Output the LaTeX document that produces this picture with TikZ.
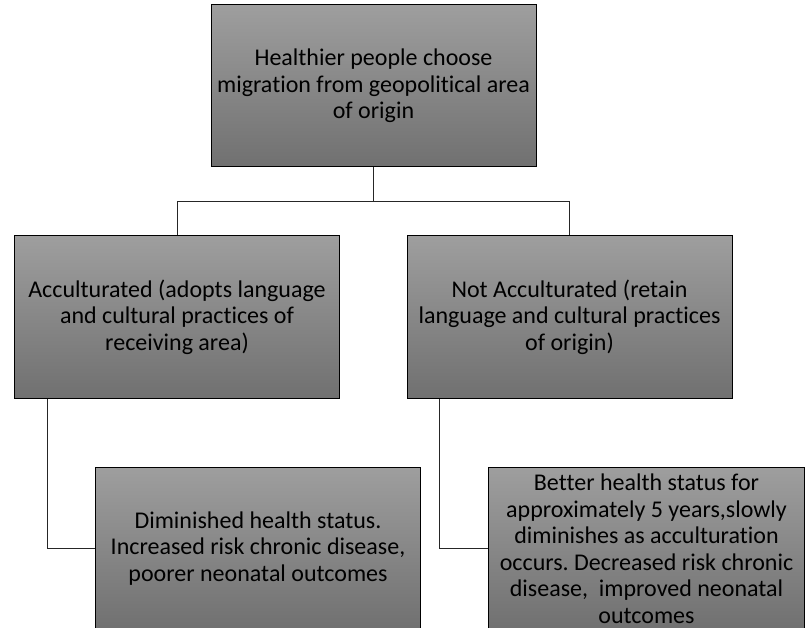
\documentclass[tikz,border=0pt]{standalone}
\usepackage{fontspec}
\setmainfont{Carlito}[Ligatures=NoCommon]
\usetikzlibrary{positioning}
\frenchspacing
\tikzstyle{box}=[draw=black, line width=1pt, top color=black!38, bottom color=black!56, minimum width=325pt, minimum height=162pt, inner sep=0pt, align=center, font=\fontsize{24}{26.5}\selectfont]
\tikzstyle{link}=[draw, line width=1pt, black!85]

\begin{document}
\begin{tikzpicture}[x=1pt, y=-1pt]

    \clip (0,0) rectangle (805,628);

    \node[box] (origin) at (373.5,86) {Healthier people choose\\ migration from geopolitical area\\ of origin};
    \node[box] (acc) at (177,317) {Acculturated (adopts language\\ and cultural practices of\\ receiving area)};
    \node[box] (notacc) at (569.5,317) {Not Acculturated (retain\\ language and cultural practices\\ of origin)};

    \node[box, anchor=north west] (worse) at (95,467) {Diminished health status.\\ Increased risk chronic disease,\\ poorer neonatal outcomes};
    \node[box, anchor=north west, minimum width=316pt] (better) at (488,467) {Better health status for\\ approximately 5 years,slowly\\ diminishes as acculturation\\ occurs. Decreased risk chronic\\ disease,~ improved neonatal\\ outcomes};

    \draw[link] (origin.south) -- ++(0,34) coordinate (fork);
    \draw[link] (acc.north) |- (fork) -| (notacc.north);

    \foreach \source/ \dest in {acc/worse, notacc/better}
        \draw[link] ([xshift=33pt]\source.south west) |- (\dest.west);

\end{tikzpicture}
\end{document}
